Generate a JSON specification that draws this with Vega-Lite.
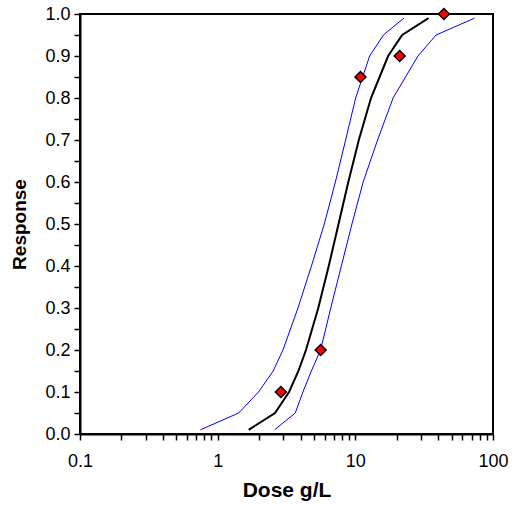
{
  "$schema": "https://vega.github.io/schema/vega-lite/v6.json",
  "width": 413,
  "height": 420,
  "autosize": {"type": "none"},
  "padding": {"left": 80, "top": 14, "right": 25, "bottom": 75},
  "background": "white",
  "config": {
    "font": "Liberation Sans",
    "view": {"stroke": "black", "strokeWidth": 2},
    "axis": {
      "grid": false,
      "domainColor": "black",
      "domainWidth": 2,
      "labelFont": "Liberation Sans",
      "labelFontSize": 18,
      "labelColor": "black",
      "titleFont": "Liberation Sans",
      "titleFontWeight": "bold",
      "titleColor": "black",
      "labelOverlap": false,
      "labelFlush": false
    }
  },
  "datasets": {
    "fit": [
      {"dose": 1.68, "response": 0.01},
      {"dose": 2.61, "response": 0.05},
      {"dose": 3.30, "response": 0.10},
      {"dose": 3.86, "response": 0.15},
      {"dose": 4.38, "response": 0.20},
      {"dose": 5.38, "response": 0.30},
      {"dose": 6.41, "response": 0.40},
      {"dose": 7.55, "response": 0.50},
      {"dose": 8.89, "response": 0.60},
      {"dose": 10.6, "response": 0.70},
      {"dose": 13.0, "response": 0.80},
      {"dose": 17.3, "response": 0.90},
      {"dose": 21.9, "response": 0.95},
      {"dose": 34.0, "response": 0.99}
    ],
    "lower": [
      {"dose": 0.75, "response": 0.01},
      {"dose": 1.42, "response": 0.05},
      {"dose": 1.98, "response": 0.10},
      {"dose": 2.53, "response": 0.15},
      {"dose": 2.98, "response": 0.20},
      {"dose": 3.83, "response": 0.30},
      {"dose": 4.80, "response": 0.40},
      {"dose": 5.95, "response": 0.50},
      {"dose": 7.16, "response": 0.60},
      {"dose": 8.50, "response": 0.70},
      {"dose": 10.05, "response": 0.80},
      {"dose": 12.7, "response": 0.90},
      {"dose": 16.0, "response": 0.95},
      {"dose": 22.5, "response": 0.99}
    ],
    "upper": [
      {"dose": 2.59, "response": 0.01},
      {"dose": 3.66, "response": 0.05},
      {"dose": 4.16, "response": 0.10},
      {"dose": 4.79, "response": 0.15},
      {"dose": 5.59, "response": 0.20},
      {"dose": 6.63, "response": 0.30},
      {"dose": 7.91, "response": 0.40},
      {"dose": 9.45, "response": 0.50},
      {"dose": 11.4, "response": 0.60},
      {"dose": 14.5, "response": 0.70},
      {"dose": 18.8, "response": 0.80},
      {"dose": 28.5, "response": 0.90},
      {"dose": 38.6, "response": 0.95},
      {"dose": 73.3, "response": 0.99}
    ],
    "obs": [
      {"dose": 2.88, "response": 0.1},
      {"dose": 5.6, "response": 0.2},
      {"dose": 10.9, "response": 0.85},
      {"dose": 21.0, "response": 0.9},
      {"dose": 44.0, "response": 1.0}
    ]
  },
  "encoding": {
    "x": {
      "field": "dose",
      "type": "quantitative",
      "scale": {"type": "log", "domain": [0.1, 100], "nice": false},
      "axis": {
        "title": "Dose g/L",
        "titleFontSize": 21,
        "titlePadding": 9,
        "labelPadding": 12,
        "ticks": true,
        "tickColor": "black",
        "tickSize": 6,
        "tickWidth": 1.5,
        "values": [0.1, 0.2, 0.3, 0.4, 0.5, 0.6, 0.7, 0.8, 0.9, 1, 2, 3, 4, 5, 6, 7, 8, 9, 10, 20, 30, 40, 50, 60, 70, 80, 90, 100],
        "labelExpr": "abs(log(datum.value)/LN10 - round(log(datum.value)/LN10)) < 0.001 ? (datum.value < 1 ? '0.1' : format(datum.value, 'd')) : ''"
      }
    },
    "y": {
      "field": "response",
      "type": "quantitative",
      "scale": {"domain": [0, 1], "nice": false},
      "axis": {
        "title": "Response",
        "titleFontSize": 19,
        "titlePadding": 15,
        "labelPadding": 4,
        "ticks": true,
        "tickColor": "black",
        "tickSize": 6,
        "tickWidth": 1.5,
        "values": [0, 0.05, 0.1, 0.15, 0.2, 0.25, 0.3, 0.35, 0.4, 0.45, 0.5, 0.55, 0.6, 0.65, 0.7, 0.75, 0.8, 0.85, 0.9, 0.95, 1],
        "labelExpr": "abs(datum.value*10 - round(datum.value*10)) < 0.001 ? format(datum.value, '.1f') : ''"
      }
    }
  },
  "layer": [
    {
      "data": {"name": "lower"},
      "mark": {"type": "line", "color": "#0000FF", "strokeWidth": 1},
      "encoding": {"order": {"field": "response"}}
    },
    {
      "data": {"name": "upper"},
      "mark": {"type": "line", "color": "#0000FF", "strokeWidth": 1},
      "encoding": {"order": {"field": "response"}}
    },
    {
      "data": {"name": "fit"},
      "mark": {"type": "line", "color": "black", "strokeWidth": 2},
      "encoding": {"order": {"field": "response"}}
    },
    {
      "data": {"name": "obs"},
      "mark": {"type": "point", "shape": "diamond", "filled": true, "fill": "#FF0000", "stroke": "black", "strokeWidth": 1.5, "size": 120, "opacity": 1, "clip": false}
    }
  ]
}
